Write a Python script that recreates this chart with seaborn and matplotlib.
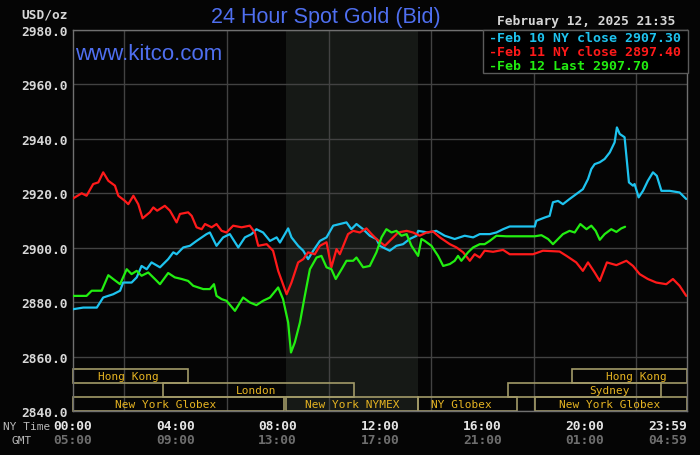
"""24 hour spot gold chart (kitco style) redrawn with seaborn."""

import numpy as np
import pandas as pd
import matplotlib.pyplot as plt
import seaborn as sns
from matplotlib.patches import Rectangle

# --- data ------------------------------------------------------------------
# hours are NY time (0 = 00:00), prices in USD/oz
feb10_hours = [0.0, 0.4, 0.93, 1.18, 1.57, 1.84, 1.96, 2.29, 2.49, 2.68, 2.88, 3.07, 3.4, 3.72,
               3.92, 4.05, 4.31, 4.57, 4.83, 5.22, 5.35, 5.61, 5.87, 6.13, 6.46, 6.72, 6.98, 7.17,
               7.43, 7.7, 7.96, 8.09, 8.41, 8.54, 8.8, 9.0, 9.19, 9.39, 9.65, 9.91, 10.17, 10.43,
               10.69, 10.88, 11.08, 11.34, 11.6, 11.86, 11.99, 12.38, 12.64, 12.9, 13.16, 13.43,
               13.49, 13.88, 14.2, 14.53, 14.92, 15.31, 15.64, 15.9, 16.29, 16.55, 16.81, 17.07,
               18.05, 18.11, 18.44, 18.63, 18.76, 18.96, 19.15, 19.41, 19.67, 19.93, 20.13, 20.26,
               20.39, 20.59, 20.78, 20.98, 21.17, 21.26, 21.37, 21.56, 21.63, 21.73, 21.89, 21.95,
               22.11, 22.28, 22.47, 22.67, 22.82, 23.0, 23.32, 23.71, 23.97]
feb10_price = [2877.4, 2878.0, 2878.0, 2881.7, 2882.9, 2884.2, 2887.2, 2887.2, 2889.1, 2893.3,
               2892.1, 2894.6, 2892.8, 2895.8, 2898.3, 2897.6, 2900.1, 2900.7, 2902.5, 2905.0,
               2905.6, 2900.7, 2903.8, 2905.0, 2900.1, 2903.8, 2905.0, 2906.8, 2905.6, 2902.5,
               2903.8, 2901.9, 2907.1, 2903.8, 2900.7, 2898.9, 2895.8, 2898.9, 2902.5, 2903.8,
               2908.1, 2908.7, 2909.3, 2906.8, 2908.7, 2906.8, 2904.4, 2903.2, 2900.7, 2898.9,
               2900.7, 2901.3, 2903.2, 2904.4, 2906.2, 2905.6, 2906.2, 2904.4, 2903.2, 2904.4,
               2903.8, 2905.0, 2905.0, 2905.6, 2906.8, 2907.8, 2907.8, 2909.9, 2911.1, 2911.7,
               2916.7, 2917.2, 2916.0, 2917.9, 2919.7, 2921.5, 2925.2, 2928.9, 2930.7, 2931.4,
               2932.6, 2935.0, 2938.7, 2944.2, 2941.8, 2940.6, 2933.8, 2924.0, 2922.8, 2923.4,
               2918.5, 2920.9, 2924.6, 2927.7, 2926.4, 2920.9, 2920.9, 2920.3, 2917.9]

feb11_hours = [0.0, 0.34, 0.53, 0.79, 0.99, 1.18, 1.38, 1.64, 1.77, 2.03, 2.16, 2.36, 2.55, 2.72,
               3.0, 3.14, 3.29, 3.59, 3.79, 4.05, 4.18, 4.5, 4.64, 4.83, 5.03, 5.16, 5.42, 5.61,
               5.81, 6.0, 6.26, 6.59, 6.91, 7.11, 7.24, 7.57, 7.82, 8.02, 8.35, 8.54, 8.8, 9.0,
               9.19, 9.45, 9.65, 9.91, 10.1, 10.3, 10.43, 10.75, 10.95, 11.21, 11.47, 11.67, 11.86,
               12.19, 12.38, 12.71, 13.04, 13.29, 13.55, 13.82, 14.07, 14.34, 14.73, 14.99, 15.25,
               15.51, 15.7, 15.9, 16.09, 16.42, 16.81, 17.07, 17.98, 18.37, 19.02, 19.29, 19.67,
               19.93, 20.13, 20.39, 20.59, 20.87, 21.24, 21.63, 21.89, 22.15, 22.47, 22.8, 23.19,
               23.45, 23.71, 23.97]
feb11_price = [2918.1, 2920.0, 2919.1, 2923.4, 2924.0, 2927.7, 2924.6, 2922.8, 2919.1, 2917.2,
               2916.0, 2919.1, 2916.0, 2910.8, 2913.0, 2914.8, 2913.6, 2915.4, 2913.6, 2909.3,
               2912.4, 2913.0, 2911.7, 2907.5, 2906.8, 2908.7, 2907.5, 2908.7, 2906.2, 2905.6,
               2908.1, 2907.5, 2908.1, 2905.6, 2900.7, 2901.3, 2898.9, 2891.5, 2882.9, 2887.2,
               2894.6, 2895.8, 2898.3, 2897.6, 2900.7, 2902.0, 2892.8, 2899.5, 2897.6, 2905.0,
               2906.2, 2905.6, 2907.1, 2905.0, 2903.2, 2900.7, 2902.5, 2905.6, 2906.2, 2905.6,
               2904.4, 2905.6, 2906.0, 2903.8, 2901.3, 2900.1, 2898.3, 2895.2, 2897.6, 2896.4,
               2898.9, 2898.5, 2899.2, 2897.6, 2897.6, 2898.9, 2898.6, 2897.0, 2894.6, 2891.5,
               2894.6, 2890.9, 2887.8, 2894.6, 2893.6, 2895.2, 2893.3, 2890.3, 2888.5, 2887.2,
               2886.6, 2888.5, 2886.0, 2882.3]

feb12_hours = [0.0, 0.53, 0.73, 1.12, 1.38, 1.57, 1.84, 2.1, 2.29, 2.49, 2.68, 2.94, 3.2, 3.4,
               3.72, 3.98, 4.25, 4.5, 4.7, 5.09, 5.35, 5.51, 5.61, 5.81, 6.0, 6.33, 6.65, 6.91,
               7.17, 7.43, 7.7, 8.02, 8.21, 8.41, 8.52, 8.67, 8.87, 9.06, 9.26, 9.52, 9.71, 9.91,
               10.1, 10.27, 10.5, 10.69, 10.95, 11.08, 11.34, 11.6, 11.86, 12.06, 12.25, 12.45,
               12.64, 12.84, 13.04, 13.23, 13.49, 13.62, 13.75, 14.01, 14.27, 14.47, 14.73, 14.92,
               15.05, 15.18, 15.44, 15.64, 15.9, 16.09, 16.29, 16.55, 16.94, 18.05, 18.31, 18.57,
               18.76, 18.96, 19.15, 19.41, 19.61, 19.83, 20.07, 20.26, 20.43, 20.59, 20.78, 21.04,
               21.24, 21.43, 21.58]
feb12_price = [2882.3, 2882.3, 2884.2, 2884.2, 2889.9, 2888.5, 2886.6, 2892.1, 2890.3, 2891.5,
               2889.7, 2890.9, 2888.5, 2886.6, 2890.7, 2889.1, 2888.5, 2887.8, 2886.0, 2884.8,
               2884.8, 2886.6, 2882.3, 2881.1, 2880.5, 2876.8, 2881.7, 2879.9, 2878.9, 2880.5,
               2881.7, 2885.4, 2881.1, 2872.5, 2861.5, 2865.2, 2872.5, 2882.3, 2892.1, 2896.4,
               2897.0, 2892.8, 2892.1, 2888.5, 2892.1, 2895.2, 2895.2, 2896.4, 2892.8, 2893.3,
               2898.3, 2903.8, 2906.8, 2905.6, 2906.2, 2904.4, 2905.0, 2900.7, 2897.0, 2903.2,
               2902.5, 2900.7, 2897.0, 2893.3, 2894.0, 2895.2, 2897.0, 2895.2, 2898.3, 2900.1,
               2901.3, 2901.3, 2902.5, 2904.4, 2904.2, 2904.2, 2904.6, 2903.2, 2901.3, 2903.2,
               2905.0, 2906.2, 2905.6, 2908.7, 2906.8, 2908.1, 2906.2, 2902.9, 2905.0, 2906.8,
               2905.8, 2907.1, 2907.7]

series_names = ["Feb 10", "Feb 11", "Feb 12"]
legend_labels = ["Feb 10 NY close 2907.30", "Feb 11 NY close 2897.40", "Feb 12 Last 2907.70"]

# trading sessions (hours NY time), row 0 = top strip
session_names = ["Hong Kong", "London", "New York Globex", "New York NYMEX", "NY Globex",
                 "Hong Kong", "Sydney", "New York Globex"]
session_start = [0.0, 3.5, 0.0, 8.33, 13.5, 19.5, 17.0, 18.05]
session_end = [4.5, 11.0, 8.25, 13.5, 17.35, 24.0, 23.0, 24.0]
session_row = [0, 1, 2, 2, 2, 0, 1, 2]
session_label_hour = [2.15, 7.15, 3.63, 10.9, 15.2, 22.03, 20.98, 20.98]

nymex_open, nymex_close = 8.33, 13.5

tick_hours = [0, 4, 8, 12, 16, 20, 24]
ny_labels = ["00:00", "04:00", "08:00", "12:00", "16:00", "20:00", "23:59"]
gmt_labels = ["05:00", "09:00", "13:00", "17:00", "21:00", "01:00", "04:59"]
price_ticks = [2840, 2860, 2880, 2900, 2920, 2940, 2960, 2980]

# --- style ------------------------------------------------------------------
bg = "#050505"
line_colors = ["#1ec3ef", "#ff1a1a", "#22ee11"]
blue = "#4f6ff0"
sess_text = "#e6b422"
sess_edge = "#a29a68"
mono = "DejaVu Sans Mono"

sns.set_theme(style="dark", rc={
    "figure.facecolor": bg,
    "axes.facecolor": bg,
    "axes.edgecolor": "#707070",
    "grid.color": "#424242",
    "grid.linewidth": 1.0,
})
plt.rcParams["font.family"] = [mono, "DejaVu Sans"]

fig = plt.figure(figsize=(7.0, 4.56), dpi=100)
ax = fig.add_axes([73 / 700, 1 - 412 / 456, 614 / 700, 381 / 456])

# NYMEX shaded block
ax.axvspan(nymex_open, nymex_close, color="#161916", zorder=0, lw=0)

# price lines
frames = []
for name, hrs, prc in zip(series_names,
                          [feb10_hours, feb11_hours, feb12_hours],
                          [feb10_price, feb11_price, feb12_price]):
    frames.append(pd.DataFrame({"hour": hrs, "price": prc, "series": name}))
df = pd.concat(frames, ignore_index=True)

sns.lineplot(data=df, x="hour", y="price", hue="series",
             palette=dict(zip(series_names, line_colors)),
             estimator=None, sort=False, linewidth=1.6,
             legend=False, ax=ax, zorder=3)

ax.set_xlim(0, 24)
ax.set_ylim(2840, 2980)
ax.set_xlabel("")
ax.set_ylabel("")

# grid: every 2 hours, every 20 dollars
ax.set_xticks(np.arange(0, 24, 2), minor=True)
ax.grid(True, which="minor", axis="x")
ax.grid(True, which="major", axis="y")
ax.grid(False, which="major", axis="x")
ax.set_axisbelow(True)

ax.set_yticks(price_ticks)
ax.set_yticklabels([f"{p:.1f}" for p in price_ticks], color="#d8d8d8",
                   fontsize=9.3, fontweight="bold", family=mono)
ax.set_xticks(tick_hours)
ax.set_xticklabels(ny_labels, color="#e6e6e6", fontsize=9.3,
                   fontweight="bold", family=mono)
ax.tick_params(axis="both", which="both", length=0)
ax.tick_params(axis="y", pad=4)
ax.tick_params(axis="x", pad=6)
ax.get_xticklabels()[-1].set_ha("right")
for s in ax.spines.values():
    s.set_color("#707070")
    s.set_linewidth(1.0)

# GMT row under the NY time labels
xt = ax.get_xaxis_transform()
for i, (h, lab) in enumerate(zip(tick_hours, gmt_labels)):
    ax.text(h, -(441 - 412) / 381, lab, transform=xt,
            ha="right" if i == len(tick_hours) - 1 else "center", va="center",
            color="#6e6e6e", fontsize=9.3, fontweight="bold", family=mono,
            clip_on=False)

# session strips
row_h = 14 / 381
for name, a, b, r, lh in zip(session_names, session_start, session_end,
                             session_row, session_label_hour):
    y0 = (2 - r) * row_h
    ax.add_patch(Rectangle((a, y0), b - a, row_h, transform=xt,
                           facecolor="none", edgecolor=sess_edge, lw=1.2,
                           zorder=2, clip_on=False))
    ax.text(lh, y0 + row_h / 2, name, transform=xt, ha="center", va="center",
            color=sess_text, fontsize=8, family=mono, zorder=4)

# titles and labels
fig.text(326 / 700, 1 - 18 / 456, "24 Hour Spot Gold (Bid)", ha="center", va="center",
         color=blue, fontsize=15.5, family="Liberation Sans")
ax.text(0.004, 1 - (54 - 31) / 381, "www.kitco.com", transform=ax.transAxes,
        ha="left", va="center", color=blue, fontsize=16, family="Liberation Sans",
        zorder=5)
fig.text(68 / 700, 1 - 15 / 456, "USD/oz", ha="right", va="center",
         color="#d8d8d8", fontsize=9.3, fontweight="bold", family=mono)
fig.text(3 / 700, 1 - 427 / 456, "NY Time", ha="left", va="center",
         color="#b8b8b8", fontsize=8, family=mono)
fig.text(22 / 700, 1 - 441 / 456, "GMT", ha="center", va="center",
         color="#b8b8b8", fontsize=8, family=mono)
fig.text(586 / 700, 1 - 22 / 456, "February 12, 2025 21:35", ha="center", va="center",
         color="#d6d6d6", fontsize=9.3, fontweight="bold", family=mono)

# legend box in the top right corner
fig.add_artist(Rectangle((483 / 700, 1 - 74 / 456), 205 / 700, 43 / 456,
                         transform=fig.transFigure, facecolor="black",
                         edgecolor="#5a5a5a", lw=1.0, zorder=6))
for i, (lab, col) in enumerate(zip(legend_labels, line_colors)):
    fig.text(489 / 700, 1 - (38 + i * 14) / 456, "-" + lab, ha="left", va="center",
             color=col, fontsize=9.5, fontweight="bold", family=mono, zorder=7)

fig.savefig("out.png", dpi=100, facecolor=bg)
